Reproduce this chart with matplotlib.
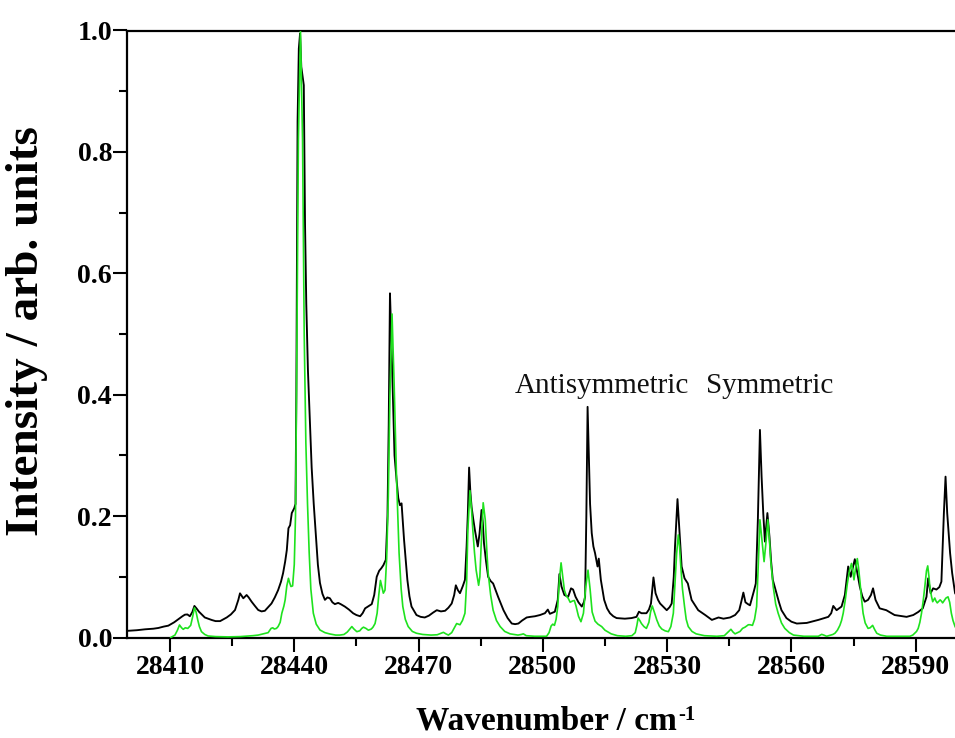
import numpy as np
import matplotlib
matplotlib.use("Agg")
import matplotlib.pyplot as plt
from matplotlib.ticker import MultipleLocator, FormatStrFormatter

# Measured (black) spectrum: wavenumber / cm-1 and normalised intensity
exp_wn = [
    28399.8, 28402.0, 28404.0, 28406.0, 28407.2, 28408.5, 28409.6, 28411.0, 28412.0, 28413.0,
    28413.6, 28414.2, 28414.8, 28415.4, 28415.9, 28416.4, 28417.0, 28418.4, 28420.1, 28421.0,
    28422.1, 28423.7, 28424.7, 28425.7, 28426.5, 28426.9, 28427.7, 28428.5, 28429.0, 28429.7,
    28430.5, 28431.3, 28432.1, 28432.9, 28433.7, 28434.5, 28435.3, 28436.1, 28436.8, 28437.3,
    28437.8, 28438.2, 28438.6, 28439.0, 28439.4, 28440.0, 28440.3, 28440.5, 28440.8, 28441.1,
    28441.4, 28441.7, 28442.0, 28442.3, 28442.6, 28442.9, 28443.3, 28443.8, 28444.2, 28444.7,
    28445.2, 28445.7, 28446.2, 28446.8, 28447.4, 28448.0, 28448.6, 28449.2, 28449.8, 28450.6,
    28451.2, 28452.2, 28453.2, 28454.2, 28455.0, 28455.9, 28456.5, 28457.1, 28458.0, 28458.7,
    28459.3, 28459.9, 28460.5, 28461.0, 28461.5, 28462.1, 28462.5, 28462.8, 28463.1, 28463.4,
    28463.8, 28464.2, 28464.7, 28465.1, 28465.5, 28465.9, 28466.5, 28467.3, 28467.8, 28468.3,
    28469.5, 28470.5, 28471.5, 28472.5, 28473.5, 28474.4, 28475.4, 28476.4, 28477.2, 28478.0,
    28478.6, 28479.0, 28479.5, 28480.0, 28480.7, 28481.2, 28481.6, 28481.9, 28482.2, 28482.5,
    28482.8, 28483.2, 28483.6, 28484.3, 28484.7, 28485.0, 28485.2, 28485.5, 28485.8, 28486.3,
    28486.8, 28487.4, 28488.0, 28488.6, 28489.2, 28489.9, 28490.5, 28491.5, 28492.5, 28493.3,
    28494.1, 28495.0, 28496.1, 28497.0, 28498.1, 28499.3, 28500.5, 28501.2, 28501.7, 28502.9,
    28503.6, 28504.0, 28504.5, 28505.2, 28506.1, 28506.8, 28507.3, 28507.9, 28508.6, 28509.4,
    28509.9, 28510.2, 28510.5, 28510.8, 28511.1, 28511.4, 28511.8, 28512.2, 28512.6, 28513.2,
    28513.5, 28514.0, 28514.8, 28515.5, 28516.2, 28517.0, 28517.8, 28519.8, 28521.4, 28522.6,
    28523.2, 28523.8, 28525.0, 28525.6, 28526.1, 28526.7, 28527.2, 28527.8, 28528.3, 28529.9,
    28530.6, 28531.1, 28531.6, 28531.9, 28532.5, 28533.0, 28533.5, 28534.2, 28535.0, 28535.9,
    28537.5, 28539.2, 28540.8, 28542.4, 28543.6, 28545.2, 28546.4, 28547.4, 28547.9, 28548.4,
    28548.9, 28549.5, 28550.0, 28551.0, 28551.4, 28551.9, 28552.4, 28552.8, 28553.2, 28553.6,
    28554.2, 28554.7, 28555.1, 28555.5, 28556.4, 28557.0, 28557.6, 28558.8, 28560.0, 28561.3,
    28563.7, 28566.5, 28568.9, 28569.6, 28570.1, 28570.9, 28572.1, 28572.9, 28573.7, 28574.3,
    28574.9, 28575.3, 28575.9, 28576.5, 28577.1, 28577.7, 28578.5, 28579.2, 28579.7, 28580.3,
    28581.3, 28582.9, 28584.9, 28587.8, 28589.4, 28590.6, 28591.7, 28592.6, 28593.0, 28593.6,
    28594.2, 28595.0, 28595.7, 28596.2, 28596.8, 28597.2, 28597.6, 28598.3, 28598.8, 28599.5,
    28600.0,
]
exp_int = [
    0.011, 0.012, 0.0135, 0.0145, 0.0157, 0.018, 0.0195, 0.025, 0.030, 0.035,
    0.0376, 0.038, 0.035, 0.042, 0.052, 0.048, 0.0425, 0.033, 0.0288, 0.027,
    0.027, 0.033, 0.038, 0.0453, 0.062, 0.0728, 0.0646, 0.070, 0.066, 0.059,
    0.052, 0.0453, 0.043, 0.044, 0.050, 0.056, 0.066, 0.078, 0.092, 0.106,
    0.125, 0.144, 0.180, 0.185, 0.205, 0.213, 0.22, 0.40, 0.85, 0.97,
    0.995, 0.94, 0.925, 0.91, 0.68, 0.55, 0.44, 0.35, 0.28, 0.22,
    0.17, 0.12, 0.09, 0.072, 0.062, 0.066, 0.0646, 0.058, 0.055, 0.057,
    0.055, 0.051, 0.046, 0.040, 0.037, 0.035, 0.040, 0.048, 0.052, 0.055,
    0.070, 0.100, 0.110, 0.114, 0.119, 0.128, 0.20, 0.35, 0.567, 0.50,
    0.40, 0.30, 0.259, 0.23, 0.218, 0.221, 0.161, 0.095, 0.068, 0.051,
    0.037, 0.034, 0.033, 0.036, 0.041, 0.045, 0.043, 0.044, 0.049, 0.056,
    0.070, 0.086, 0.078, 0.073, 0.085, 0.095, 0.15, 0.205, 0.280, 0.24,
    0.215, 0.195, 0.177, 0.150, 0.17, 0.194, 0.210, 0.19, 0.155, 0.125,
    0.100, 0.093, 0.089, 0.078, 0.067, 0.055, 0.045, 0.032, 0.023, 0.022,
    0.023, 0.028, 0.033, 0.034, 0.035, 0.037, 0.040, 0.046, 0.039, 0.0425,
    0.062, 0.1046, 0.084, 0.070, 0.067, 0.081, 0.079, 0.067, 0.058, 0.051,
    0.058, 0.067, 0.20, 0.380, 0.30, 0.22, 0.172, 0.150, 0.139, 0.117,
    0.130, 0.095, 0.062, 0.048, 0.040, 0.035, 0.032, 0.031, 0.032, 0.034,
    0.0425, 0.040, 0.040, 0.046, 0.056, 0.099, 0.073, 0.062, 0.056, 0.045,
    0.050, 0.056, 0.10, 0.150, 0.228, 0.172, 0.117, 0.0975, 0.089, 0.062,
    0.045, 0.037, 0.029, 0.033, 0.031, 0.033, 0.037, 0.045, 0.059, 0.074,
    0.058, 0.055, 0.053, 0.078, 0.089, 0.194, 0.342, 0.265, 0.205, 0.158,
    0.205, 0.166, 0.125, 0.095, 0.073, 0.058, 0.045, 0.032, 0.026, 0.023,
    0.024, 0.029, 0.034, 0.040, 0.052, 0.045, 0.051, 0.070, 0.117, 0.100,
    0.117, 0.129, 0.106, 0.084, 0.068, 0.059, 0.062, 0.070, 0.081, 0.062,
    0.048, 0.045, 0.037, 0.034, 0.037, 0.042, 0.048, 0.067, 0.0975, 0.073,
    0.081, 0.079, 0.083, 0.092, 0.205, 0.265, 0.205, 0.139, 0.106, 0.073,
    0.068,
]

# Simulated (green) spectrum
sim_wn = [
    28410.2, 28411.2, 28411.8, 28412.3, 28412.8, 28413.2, 28413.7, 28414.3, 28415.0, 28415.5,
    28415.9, 28416.3, 28416.7, 28417.1, 28417.6, 28418.4, 28419.2, 28421.0, 28424.0, 28427.0,
    28430.0, 28431.3, 28432.5, 28433.7, 28434.4, 28434.8, 28435.2, 28435.7, 28436.1, 28436.6,
    28437.0, 28437.5, 28437.8, 28438.2, 28438.6, 28438.9, 28439.2, 28439.6, 28440.0, 28440.3,
    28440.6, 28441.0, 28441.5, 28442.0, 28442.4, 28442.8, 28443.2, 28443.6, 28444.0, 28444.6,
    28445.3, 28446.2, 28447.4, 28448.6, 28450.0, 28451.0, 28452.0, 28452.8, 28453.4, 28453.9,
    28454.4, 28455.1, 28455.8, 28456.3, 28456.7, 28457.3, 28457.9, 28458.6, 28459.0, 28459.5,
    28460.0, 28460.4, 28460.8, 28461.2, 28461.5, 28461.9, 28462.3, 28462.7, 28463.1, 28463.6,
    28464.1, 28464.7, 28465.3, 28465.8, 28466.2, 28466.8, 28467.5, 28468.5, 28469.5, 28471.0,
    28473.0, 28474.5, 28475.4, 28476.0, 28476.6, 28477.2, 28478.0, 28478.8, 28479.2, 28479.6,
    28480.0, 28480.6, 28481.2, 28481.6, 28481.9, 28482.4, 28482.8, 28483.1, 28483.5, 28483.9,
    28484.5, 28484.8, 28485.1, 28485.6, 28486.1, 28486.5, 28486.8, 28487.4, 28488.0, 28488.8,
    28489.7, 28490.8, 28492.1, 28494.0, 28494.8, 28495.3, 28496.0, 28498.0, 28500.0, 28500.9,
    28501.5, 28502.0, 28502.4, 28502.8, 28503.2, 28503.6, 28504.0, 28504.4, 28504.8, 28505.2,
    28505.7, 28506.1, 28506.6, 28507.1, 28507.6, 28508.0, 28508.6, 28509.2, 28509.8, 28510.3,
    28510.9, 28511.4, 28511.9, 28512.6, 28513.3, 28514.2, 28515.0, 28516.5, 28518.0, 28520.0,
    28521.5, 28522.3, 28522.7, 28523.0, 28523.4, 28523.8, 28524.4, 28525.0, 28525.6, 28526.0,
    28526.4, 28526.9, 28527.5, 28528.1, 28528.7, 28529.5, 28530.3, 28530.9, 28531.5, 28532.0,
    28532.3, 28532.7, 28533.0, 28533.3, 28533.7, 28534.2, 28534.6, 28535.1, 28536.0, 28537.0,
    28539.0, 28542.0, 28543.8, 28544.4, 28544.8, 28545.4, 28545.9, 28546.4, 28547.0, 28547.6,
    28548.2, 28548.8, 28549.6, 28550.0, 28550.6, 28551.1, 28551.6, 28552.0, 28552.4, 28552.9,
    28553.4, 28553.9, 28554.3, 28554.7, 28555.0, 28555.6, 28556.2, 28556.8, 28557.6, 28558.4,
    28559.5, 28560.5, 28563.0, 28566.5, 28567.0, 28567.3, 28567.8, 28568.5, 28570.0, 28570.5,
    28571.1, 28571.7, 28572.1, 28572.5, 28573.0, 28573.5, 28574.0, 28574.5, 28574.8, 28575.1,
    28575.5, 28575.9, 28576.2, 28576.5, 28576.9, 28577.3, 28577.8, 28578.5, 28579.0, 28579.6,
    28580.1, 28580.6, 28581.5, 28583.0, 28588.6, 28589.3, 28589.8, 28590.2, 28590.6, 28591.0,
    28591.4, 28591.8, 28592.2, 28592.6, 28592.9, 28593.2, 28593.4, 28593.8, 28594.1, 28594.6,
    28594.9, 28595.2, 28595.6, 28595.9, 28596.2, 28596.5, 28596.9, 28597.3, 28597.8, 28598.2,
    28598.6, 28599.0, 28599.5, 28600.0,
]
sim_int = [
    0.0, 0.004, 0.012, 0.0206, 0.016, 0.0135, 0.016, 0.015, 0.020, 0.035,
    0.049, 0.042, 0.029, 0.018, 0.0096, 0.005, 0.0025, 0.0015, 0.001, 0.0015,
    0.003, 0.004, 0.006, 0.008, 0.015, 0.016, 0.014, 0.015, 0.018, 0.025,
    0.040, 0.052, 0.062, 0.085, 0.0975, 0.090, 0.084, 0.085, 0.12, 0.2,
    0.45, 0.82, 1.0, 0.82, 0.50, 0.32, 0.22, 0.14, 0.08, 0.040,
    0.022, 0.0124, 0.008, 0.0058, 0.004, 0.004, 0.005, 0.009, 0.014, 0.018,
    0.014, 0.0096, 0.011, 0.015, 0.017, 0.015, 0.012, 0.014, 0.017, 0.023,
    0.040, 0.070, 0.094, 0.082, 0.073, 0.078, 0.13, 0.232, 0.40, 0.533,
    0.42, 0.259, 0.139, 0.080, 0.051, 0.030, 0.018, 0.010, 0.007, 0.005,
    0.004, 0.0045, 0.007, 0.0085, 0.006, 0.004, 0.008, 0.018, 0.023, 0.022,
    0.021, 0.028, 0.040, 0.090, 0.177, 0.242, 0.21, 0.177, 0.14, 0.111,
    0.086, 0.10, 0.150, 0.222, 0.194, 0.14, 0.106, 0.07, 0.045, 0.028,
    0.018, 0.010, 0.006, 0.004, 0.005, 0.006, 0.003, 0.002, 0.002, 0.002,
    0.008, 0.019, 0.022, 0.020, 0.030, 0.051, 0.095, 0.123, 0.10, 0.078,
    0.068, 0.065, 0.058, 0.060, 0.061, 0.052, 0.035, 0.026, 0.040, 0.08,
    0.111, 0.08, 0.042, 0.027, 0.022, 0.018, 0.012, 0.006, 0.003, 0.002,
    0.003, 0.008, 0.020, 0.032, 0.028, 0.023, 0.018, 0.015, 0.025, 0.042,
    0.052, 0.042, 0.029, 0.019, 0.014, 0.011, 0.0096, 0.018, 0.040, 0.10,
    0.139, 0.169, 0.15, 0.117, 0.08, 0.051, 0.030, 0.018, 0.010, 0.006,
    0.003, 0.002, 0.003, 0.007, 0.0096, 0.0135, 0.009, 0.006, 0.008, 0.010,
    0.015, 0.017, 0.021, 0.021, 0.020, 0.030, 0.051, 0.12, 0.194, 0.16,
    0.125, 0.16, 0.194, 0.16, 0.127, 0.084, 0.055, 0.040, 0.024, 0.015,
    0.008, 0.004, 0.002, 0.002, 0.004, 0.0052, 0.004, 0.002, 0.005, 0.007,
    0.012, 0.020, 0.028, 0.040, 0.062, 0.089, 0.110, 0.122, 0.11, 0.095,
    0.115, 0.130, 0.115, 0.095, 0.065, 0.040, 0.024, 0.015, 0.016, 0.020,
    0.013, 0.007, 0.004, 0.002, 0.002, 0.004, 0.0074, 0.010, 0.015, 0.025,
    0.040, 0.060, 0.084, 0.110, 0.118, 0.10, 0.084, 0.068, 0.059, 0.065,
    0.060, 0.057, 0.060, 0.062, 0.060, 0.057, 0.061, 0.065, 0.067, 0.058,
    0.040, 0.028, 0.018, 0.012,
]

x_major_ticks = [28410, 28440, 28470, 28500, 28530, 28560, 28590]
band_labels = ["Antisymmetric", "Symmetric"]
band_label_pos = [(28493.3, 0.403), (28539.5, 0.403)]

plt.rcParams["font.family"] = ["Liberation Serif", "DejaVu Serif"]

W, H = 955, 738
fig = plt.figure(figsize=(W / 100, H / 100), dpi=100)

x_lo, x_hi = 28399.7, 28601.0
px_per_unit = 4.143
left_px, top_px, bottom_px = 127.3, 30.5, 637.5
width_px = (x_hi - x_lo) * px_per_unit
ax = fig.add_axes([left_px / W, 1 - bottom_px / H, width_px / W, (bottom_px - top_px) / H])

ax.plot(exp_wn, exp_int, color="black", lw=1.35, zorder=2)
ax.plot(sim_wn, sim_int, color="#1ee21e", lw=1.2, zorder=3)

ax.set_xlim(x_lo, x_hi)
ax.set_ylim(0, 1.0)

ax.set_xticks(x_major_ticks)
ax.xaxis.set_minor_locator(MultipleLocator(15))
ax.yaxis.set_major_locator(MultipleLocator(0.2))
ax.yaxis.set_minor_locator(MultipleLocator(0.1))
ax.yaxis.set_major_formatter(FormatStrFormatter("%.1f"))

for side in ("left", "top", "bottom"):
    ax.spines[side].set_linewidth(1.6)
ax.spines["right"].set_visible(False)

ax.tick_params(axis="both", which="both", direction="out", width=1.5,
               top=False, right=False)
ax.tick_params(axis="both", which="major", length=10)
ax.tick_params(axis="both", which="minor", length=5.5)
ax.tick_params(axis="x", which="major", pad=2.5)
ax.tick_params(axis="y", which="major", pad=1)
for lab in ax.get_xticklabels() + ax.get_yticklabels():
    lab.set_fontweight("bold")
    lab.set_fontsize(20)

for txt, (xw, yi) in zip(band_labels, band_label_pos):
    ax.text(xw, yi, txt, fontsize=21, ha="left", va="baseline", color="#111111")

fig.text(27 / W, 1 - 331 / H, "Intensity / arb. units", rotation=90,
         ha="center", va="center", fontsize=34, fontweight="bold")

xl = fig.text(416 / W, 1 - 729.5 / H, "Wavenumber / cm", ha="left", va="baseline",
              fontsize=24, fontweight="bold")
fig.canvas.draw()
ax.annotate("-1", xy=(1.0, 1.0), xycoords=xl, xytext=(1, 0), textcoords="offset points",
            ha="left", va="top", fontsize=15, fontweight="bold", annotation_clip=False)

fig.savefig("out.png", dpi=100)
